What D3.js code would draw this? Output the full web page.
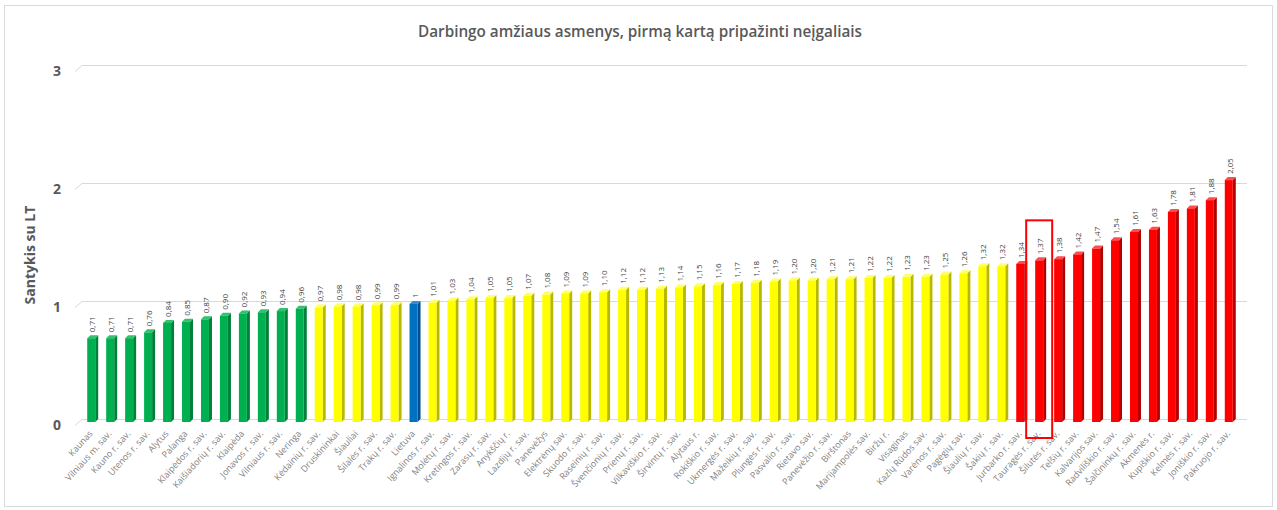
<!DOCTYPE html>
<html>
<head>
<meta charset="utf-8">
<script src="https://cdnjs.cloudflare.com/ajax/libs/d3/7.8.5/d3.min.js"></script>
<style>
  body { margin: 0; background: #fff; }
  svg text { font-family: "Open Sans", "DejaVu Sans", sans-serif; }
</style>
</head>
<body>
<svg id="chart" width="1277" height="510"></svg>
<script>
// savivaldybės, surikiuotos pagal santykį su Lietuvos vidurkiu
var categories = ["Kaunas", "Vilniaus m. sav.", "Kauno r. sav.", "Utenos r. sav.", "Alytus", "Palanga",
  "Klaipėdos r. sav.", "Kaišiadorių r. sav.", "Klaipėda", "Jonavos r. sav.", "Vilniaus r. sav.", "Neringa",
  "Kėdainių r. sav.", "Druskininkai", "Šiauliai", "Šilalės r. sav.", "Trakų r. sav.", "Lietuva",
  "Ignalinos r. sav.", "Molėtų r. sav.", "Kretingos r. sav.", "Zarasų r. sav.", "Anykščių r.", "Lazdijų r. sav.",
  "Panevėžys", "Elektrėnų sav.", "Skuodo r. sav.", "Raseinių r. sav.", "Švenčionių r. sav.", "Prienų r. sav.",
  "Vilkaviškio r. sav.", "Širvintų r. sav.", "Alytaus r.", "Rokiškio r. sav.", "Ukmergės r. sav.", "Mažeikių r. sav.",
  "Plungės r. sav.", "Pasvalio r. sav.", "Rietavo sav.", "Panevėžio r. sav.", "Birštonas", "Marijampolės sav.",
  "Biržų r.", "Visaginas", "Kazlų Rūdos sav.", "Varėnos r. sav.", "Pagėgių sav.", "Šiaulių r. sav.",
  "Šakių r. sav.", "Jurbarko r. sav.", "Tauragės r. sav.", "Šilutės r. sav.", "Telšių r. sav.", "Kalvarijos sav.",
  "Radviliškio r. sav.", "Šalčininkų r. sav.", "Akmenės r.", "Kupiškio r. sav.", "Kelmės r. sav.", "Joniškio r. sav.",
  "Pakruojo r. sav."];

var values = [0.71, 0.71, 0.71, 0.76, 0.84, 0.85, 0.87, 0.90, 0.92, 0.93, 0.94, 0.96,
  0.97, 0.98, 0.98, 0.99, 0.99, 1,
  1.01, 1.03, 1.04, 1.05, 1.05, 1.07, 1.08, 1.09, 1.09, 1.10, 1.12, 1.12,
  1.13, 1.14, 1.15, 1.16, 1.17, 1.18, 1.19, 1.20, 1.20, 1.21, 1.21, 1.22,
  1.22, 1.23, 1.23, 1.25, 1.26, 1.32, 1.32,
  1.34, 1.37, 1.38, 1.42, 1.47, 1.54, 1.61, 1.63, 1.78, 1.81, 1.88, 2.05];

// spalvų grupės: g - žalia, y - geltona, b - Lietuva, r - raudona
var groups = ["g","g","g","g","g","g","g","g","g","g","g","g",
  "y","y","y","y","y","b",
  "y","y","y","y","y","y","y","y","y","y","y","y",
  "y","y","y","y","y","y","y","y","y","y","y","y",
  "y","y","y","y","y","y","y",
  "r","r","r","r","r","r","r","r","r","r","r","r"];

var yTicks = [0, 1, 2, 3];
var highlighted = "Tauragės r. sav.";

var front = { g: "#00b050", y: "#ffff00", b: "#0070c0", r: "#ff0000" };
var side  = { g: "#00803a", y: "#b8b800", b: "#004f8a", r: "#b30000" };
var topc  = { g: "#33c06f", y: "#ffff66", b: "#3390d0", r: "#ff4d4d" };

var svg = d3.select("#chart");
var W = 1277, H = 510;

svg.append("rect")
  .attr("x", 4.5).attr("y", 5.5).attr("width", W - 9).attr("height", H - 9)
  .attr("fill", "#fff").attr("stroke", "#d9d9d9");

var x = d3.scaleBand().domain(categories).range([78, 1244]).padding(0.5);
var y = d3.scaleLinear().domain([0, 3]).range([422, 68]);

var depth = 3;
var bw = 8;

// tinklelis su "3D" nuožulnumu kairėje
var grid = svg.append("g");
yTicks.forEach(function(t) {
  var yy = Math.round(y(t)) - 2.5;
  grid.append("path")
    .attr("d", "M75," + (yy + 6) + "L82," + yy + "L1247," + yy)
    .attr("fill", "none")
    .attr("stroke", "#d9d9d9")
    .attr("stroke-width", 1);
});

// y ašies žymės
var yAxis = d3.axisLeft(y).tickValues(yTicks).tickSize(0).tickFormat(d3.format("d"));
var ya = svg.append("g").attr("transform", "translate(62,3)").call(yAxis);
ya.select(".domain").remove();
ya.selectAll("text")
  .attr("fill", "#595959")
  .style("font-size", "14px")
  .style("font-weight", "bold")
  .attr("text-anchor", "middle")
  .attr("x", -5);

svg.append("text")
  .attr("transform", "translate(35,255) rotate(-90)")
  .attr("text-anchor", "middle")
  .attr("fill", "#595959")
  .style("font-size", "14px")
  .style("font-weight", "bold")
  .text("Santykis su LT");

svg.append("text")
  .attr("x", 640).attr("y", 37)
  .attr("text-anchor", "middle")
  .attr("fill", "#595959")
  .style("font-size", "16px")
  .style("font-weight", "600")
  .attr("textLength", 444)
  .attr("lengthAdjust", "spacingAndGlyphs")
  .text("Darbingo amžiaus asmenys, pirmą kartą pripažinti neįgaliais");

var data = categories.map(function(c, i) { return { name: c, v: values[i], g: groups[i] }; });

var bars = svg.append("g").selectAll("g").data(data).enter().append("g")
  .attr("transform", function(d) {
    return "translate(" + (x(d.name) + x.bandwidth() / 2 - bw / 2 - 1) + ",0)";
  });

// šoninė sienelė
bars.append("path")
  .attr("d", function(d) {
    var t = y(d.v), b = y(0);
    return "M" + bw + "," + t + "L" + (bw + depth) + "," + (t - depth) +
      "L" + (bw + depth) + "," + (b - depth) + "L" + bw + "," + b + "Z";
  })
  .attr("fill", function(d) { return side[d.g]; });

// viršus
bars.append("path")
  .attr("d", function(d) {
    var t = y(d.v);
    return "M0," + t + "L" + depth + "," + (t - depth) + "L" + (bw + depth) + "," + (t - depth) +
      "L" + bw + "," + t + "Z";
  })
  .attr("fill", function(d) { return topc[d.g]; });

// priekis
bars.append("rect")
  .attr("x", 0)
  .attr("y", function(d) { return y(d.v); })
  .attr("width", bw)
  .attr("height", function(d) { return y(0) - y(d.v); })
  .attr("fill", function(d) { return front[d.g]; });

var fmt = function(v) { return v === 1 ? "1" : d3.format(".2f")(v).replace(".", ","); };

bars.append("text")
  .attr("transform", function(d) {
    return "translate(" + (bw / 2 + 4) + "," + (y(d.v) - 6) + ") rotate(-90)";
  })
  .attr("fill", "#404040")
  .style("font-size", "8px")
  .text(function(d) { return fmt(d.v); });

// kategorijų pavadinimai
svg.append("g").selectAll("text").data(categories).enter().append("text")
  .attr("transform", function(d) {
    return "translate(" + (x(d) + x.bandwidth() / 2 + 1) + ",434) rotate(-48)";
  })
  .attr("text-anchor", "end")
  .attr("fill", "#808080")
  .style("font-size", "9px")
  .text(function(d) { return d; });

// išskirta Tauragė
var hx = x(highlighted) + x.bandwidth() / 2;
svg.append("rect")
  .attr("x", hx - 14)
  .attr("y", y(1.37) - 40)
  .attr("width", 26)
  .attr("height", 438 - (y(1.37) - 40))
  .attr("fill", "none")
  .attr("stroke", "#ff0000")
  .attr("stroke-width", 2);
</script>
</body>
</html>
